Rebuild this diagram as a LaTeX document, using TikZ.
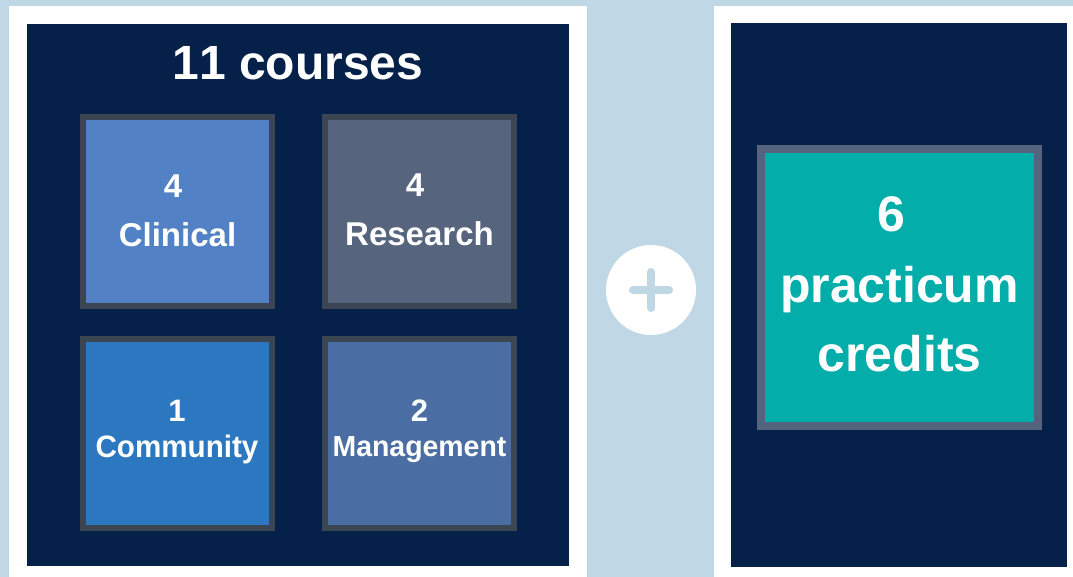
\documentclass[tikz,border=0pt]{standalone}
\usepackage{fontspec}
\setmainfont{Liberation Sans}
\definecolor{bgblue}{HTML}{C0D7E5}
\definecolor{navy}{HTML}{05214A}
\definecolor{clinc}{HTML}{5282C5}
\definecolor{resc}{HTML}{56647D}
\definecolor{commc}{HTML}{2B78C1}
\definecolor{mgmtc}{HTML}{4A6EA3}
\definecolor{smallborder}{HTML}{3C4653}
\definecolor{tealc}{HTML}{03ADA9}
\definecolor{tealborder}{HTML}{56637E}
\newcommand\fsz[1]{\fontsize{#1}{#1}\selectfont\bfseries}
\tikzset{
  course/.style={draw=smallborder, line width=6pt, minimum width=189pt, minimum height=189pt, inner sep=0pt},
  lbl/.style={anchor=base, text=white, inner sep=0pt, outer sep=0pt},
}
\begin{document}
\begin{tikzpicture}[x=1pt,y=-1pt]
\useasboundingbox (0,0) rectangle (1073,577);
\fill[bgblue] (0,0) rectangle (1073,577);
% left panel
\fill[white] (9,6) rectangle (587,577);
\fill[navy] (27,24) rectangle (569,566);
% right panel
\fill[white] (714,6) rectangle (1073,577);
\fill[navy] (731,23) rectangle (1067,567);
% title
\node[lbl, font=\fsz{48}\addfontfeatures{Kerning=Off}] (title) at (298,80) {11 courses};
% course boxes
\node[course, fill=clinc] (clin) at (177.5,211.5) {};
\node[course, fill=resc] (res) at (419.5,211.5) {};
\node[course, fill=commc] (comm) at (177.5,433.5) {};
\node[course, fill=mgmtc] (mgmt) at (419.5,433.5) {};
\node[lbl, font=\fsz{33}] (clinN) at (173,198) {4};
\node[lbl, font=\fsz{33}] (clinT) at (177.5,247) {Clinical};
\node[lbl, font=\fsz{33}] (resN) at (415,197) {4};
\node[lbl, font=\fsz{33}] (resT) at (419.5,246) {Research};
\node[lbl, font=\fsz{31}] (commN) at (177,421) {1};
\node[lbl, font=\fsz{31}] (commT) at (177,457) {\scalebox{0.955}[1]{Community}};
\node[lbl, font=\fsz{31}] (mgmtN) at (419.5,421) {2};
\node[lbl, font=\fsz{29}] (mgmtT) at (419.5,456) {\scalebox{0.98}[1]{Management}};
% plus
\node[circle, fill=white, minimum size=90pt, inner sep=0pt] (plus) at (651,290) {};
\draw[bgblue, line width=8pt, line cap=round] ([xshift=-18pt]plus.center) -- ([xshift=18pt]plus.center);
\draw[bgblue, line width=8pt, line cap=round] ([yshift=-18pt]plus.center) -- ([yshift=18pt]plus.center);
% practicum
\node[draw=tealborder, line width=8pt, fill=tealc, minimum width=277pt, minimum height=277pt, inner sep=0pt] (prac) at (899.5,287.5) {};
\node[lbl, font=\fsz{50}] (pracN) at (891.5,232) {6};
\node[lbl, font=\fsz{50}] (pracT) at (899.5,302) {practicum};
\node[lbl, font=\fsz{50}] (pracC) at (899.5,371) {credits};
\end{tikzpicture}
\end{document}
